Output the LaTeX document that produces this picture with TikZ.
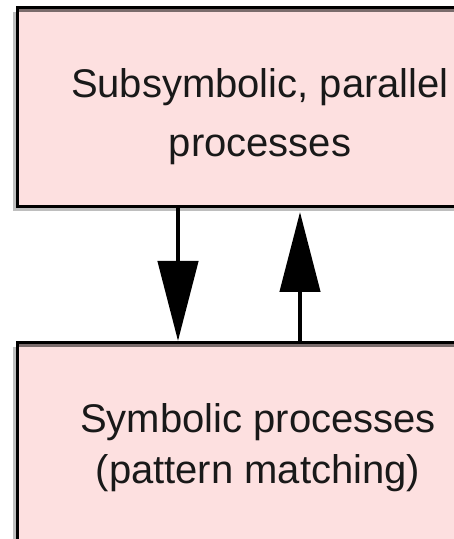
\documentclass[tikz,border=0pt]{standalone}
\usepackage{fontspec}
\setmainfont{Liberation Sans}
\usetikzlibrary{arrows.meta,shadows}
\definecolor{boxpink}{RGB}{253,224,224}
\definecolor{rimgray}{RGB}{122,108,108}
\definecolor{shadegray}{RGB}{190,190,190}
\begin{document}
\begin{tikzpicture}[x=1pt, y=1pt,
		procbox/.style={draw=black, line width=3pt, fill=boxpink, minimum width=489pt,
			drop shadow={shadow xshift=-4.5pt, shadow yshift=-4.5pt, fill=shadegray, opacity=1}},
		boxtext/.style={align=center, font=\fontsize{40}{59}\selectfont, text=black!90},
		flow/.style={line width=4.5pt, -{Triangle[length=80pt, width=40pt]}}]
	\useasboundingbox[fill=white] (0, 0) rectangle (454, 539);
	\clip (0, 0) rectangle (454, 539);
	\node[procbox, minimum height=199pt] (subsym) at (262, 432) {};
	\node[procbox, minimum height=256.5pt] (sym) at (262, 68.25) {};
	% lighter inner edge under the top border
	\draw[rimgray, line width=3pt] ([xshift=3pt, yshift=-4.5pt]subsym.north west) -- ([yshift=-4.5pt]subsym.north east);
	\draw[rimgray, line width=3pt] ([xshift=3pt, yshift=-4.5pt]sym.north west) -- ([yshift=-4.5pt]sym.north east);
	\node[boxtext, anchor=base] (subsymtext) at (260, 382) {Subsymbolic, parallel\\processes};
	\node[boxtext, anchor=base] (symtext) at (258, 56) {Symbolic processes\\[-8pt](pattern matching)};
	\draw[flow] ([xshift=-84pt]subsym.south) -- ([xshift=-84pt]sym.north);
	\draw[flow, shorten >=4pt] ([xshift=38pt]sym.north) -- ([xshift=38pt]subsym.south);
\end{tikzpicture}
\end{document}
